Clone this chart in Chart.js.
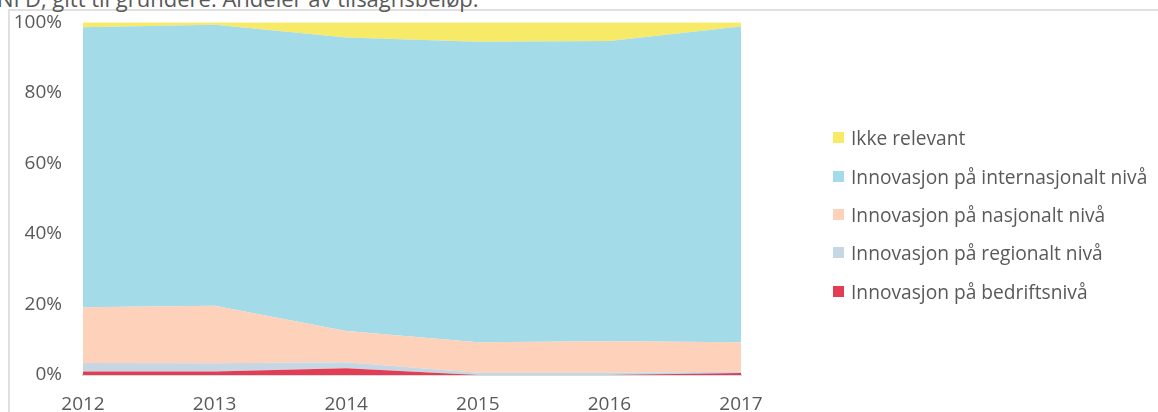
<!DOCTYPE html>
<html><head><meta charset="utf-8">
<script src="https://cdn.jsdelivr.net/npm/chart.js@4"></script>
<style>
html,body{margin:0;padding:0;width:1158px;height:412px;overflow:hidden;background:#fff;}
#frame{position:absolute;left:8px;top:9px;width:1200px;height:460px;border:2px solid #e0e0e0;box-sizing:border-box;}
#wrap{position:absolute;left:0;top:0;width:1158px;height:412px;}
#title{position:absolute;left:-3px;top:-12.5px;font-family:"Open Sans";font-size:22px;color:#595959;white-space:nowrap;line-height:20px}
.leg{position:absolute;left:833px;height:20px;display:flex;align-items:center;font-family:"Open Sans";font-size:19.2px;color:#595959;white-space:nowrap}
.leg i{display:inline-block;width:11px;height:11px;margin-right:7px}
</style></head>
<body>
<div id="frame"></div>
<div id="title">NFD, gitt til gründere. Andeler av tilsagnsbeløp.</div>
<div id="wrap"><canvas id="c" width="1158" height="412"></canvas></div>
<div id="legend"></div>
<script>
const years = ['2012','2013','2014','2015','2016','2017'];
const bedrift = [1.0, 1.0, 1.9, 0, 0, 0.6];
const regional = [2.4, 2.3, 1.7, 0.65, 0.65, 0.3];
const nasjonal = [15.8, 16.3, 8.9, 8.65, 8.95, 8.4];
const internasjonal = [79.4, 79.7, 83.2, 85.2, 85.1, 89.5];
const ikkeRelevant = [1.4, 0.7, 4.3, 5.5, 5.3, 1.2];
const yTicks = [0, 20, 40, 60, 80, 100];

const seriesNames = ['Innovasjon på bedriftsnivå','Innovasjon på regionalt nivå','Innovasjon på nasjonalt nivå','Innovasjon på internasjonalt nivå','Ikke relevant'];
const seriesData = [bedrift, regional, nasjonal, internasjonal, ikkeRelevant];
const seriesColors = ['#E23D54','#C6D7E3','#FDD1BA','#A4DBE8','#F6EA66'];

const datasets = seriesData.map((d,i)=>({
  label: seriesNames[i], data: d,
  backgroundColor: seriesColors[i], borderColor: seriesColors[i],
  borderWidth: 0, pointRadius: 0, tension: 0,
  fill: i===0 ? 'origin' : '-1'
}));

const tickColor = '#595959';
new Chart(document.getElementById('c'), {
  type: 'line',
  data: { labels: years, datasets },
  options: {
    responsive: false, animation: false,
    layout: { padding: { left: 0, right: 417, top: 22.3, bottom: 0 } },
    plugins: { legend: { display: false }, tooltip: { enabled: false } },
    scales: {
      x: {
        offset: false,
        grid: { display: false, drawTicks: false },
        border: { display: true, color: '#d9d9d9', width: 2 },
        ticks: { color: tickColor, font: { family: 'Open Sans', size: 19 }, padding: 18, maxRotation: 0 },
        afterFit: s => { s.height = 37; s.paddingLeft = 0; s.paddingRight = 0; }
      },
      y: {
        stacked: true, min: 0, max: 100,
        afterBuildTicks: s => { s.ticks = yTicks.map(v => ({ value: v })); },
        grid: { display: false, drawTicks: false },
        border: { display: false },
        ticks: { color: tickColor, font: { family: 'Open Sans', size: 19 }, padding: 21, callback: v => v + '%' },
        afterFit: s => { s.width = 83; s.paddingTop = 0; s.paddingBottom = 0; }
      }
    }
  }
});

const legendRows = [137, 176, 214, 252, 291];
const lg = document.getElementById('legend');
for (let k = 0; k < seriesNames.length; k++) {
  const i = seriesNames.length - 1 - k;
  const row = document.createElement('div');
  row.className = 'leg';
  row.style.top = (legendRows[k] - 10) + 'px';
  const sw = document.createElement('i');
  sw.style.background = seriesColors[i];
  row.appendChild(sw);
  row.appendChild(document.createTextNode(seriesNames[i]));
  lg.appendChild(row);
}
</script>
</body></html>
